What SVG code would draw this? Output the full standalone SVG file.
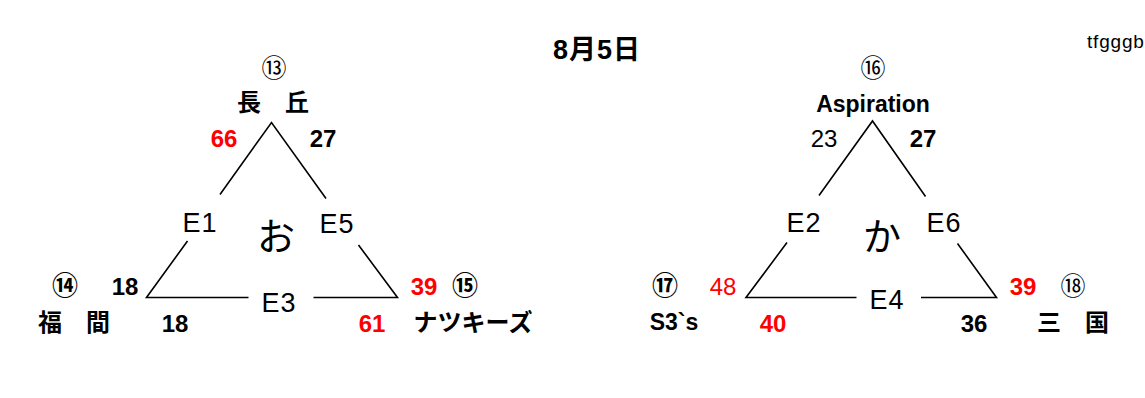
<svg xmlns="http://www.w3.org/2000/svg" width="1145" height="398" viewBox="0 0 1145 398">
<style>
.bg{fill:#ffffff}
.ln{stroke:#000;stroke-width:1.6;fill:none}
text{text-anchor:middle}
.num{font-family:"Liberation Sans","Noto Sans CJK JP",sans-serif;font-size:24px;font-weight:bold;fill:#000}
.numr{font-family:"Liberation Sans","Noto Sans CJK JP",sans-serif;font-size:24px;font-weight:normal;fill:#000}
.red{fill:#ff0000}
.cir{font-family:"Noto Sans CJK JP",sans-serif;font-size:25px;fill:#000}
.cirb{font-family:"Noto Sans CJK JP",sans-serif;font-size:26px;font-weight:bold;fill:#000}
.jp{font-family:"Noto Sans CJK JP",sans-serif;font-size:24px;font-weight:bold;fill:#000}
.en{font-family:"Liberation Sans","Noto Sans CJK JP",sans-serif;font-size:23px;font-weight:bold;fill:#000}
.e{font-family:"Liberation Sans",sans-serif;font-size:27px;fill:#000;letter-spacing:1px}
.big{font-family:"Noto Sans CJK JP",sans-serif;font-size:38px;fill:#000}
.title{font-family:"Liberation Sans","Noto Sans CJK JP",sans-serif;font-size:27px;font-weight:bold;fill:#000;letter-spacing:1px}
.tag{font-family:"Liberation Sans",sans-serif;font-size:19px;fill:#000;text-anchor:start;letter-spacing:0.8px}
</style>
<rect class="bg" x="0" y="0" width="1145" height="398"/>
<text class="title" x="597" y="59">8月5日</text>
<text class="tag" x="1087" y="48">tfgggb</text>

<g id="connectors">
  <path class="ln" d="M220,194.5 L271.5,122.5 L326,198.5"/>
  <path class="ln" d="M187.5,241 L146.5,297.5 L248.5,297.5"/>
  <path class="ln" d="M313.5,297.5 L397.5,297.5 L358.5,245"/>
  <path class="ln" d="M819,195.5 L872.5,121 L925.5,196.5"/>
  <path class="ln" d="M787,242.5 L746,297.5 L856.5,297.5"/>
  <path class="ln" d="M921,297.5 L996.5,297.5 L957.5,243.5"/>
</g>

<g id="node-nagaoka">
  <text class="cir" x="274" y="77">⑬</text>
  <text class="jp" x="273" y="111">長　丘</text>
  <text class="num red" x="224" y="147">66</text>
  <text class="num" x="323" y="147">27</text>
</g>
<g id="node-fukuma">
  <text class="cirb" x="65" y="295">⑭</text>
  <text class="num" x="125" y="295">18</text>
  <text class="jp" x="74" y="331">福　間</text>
  <text class="num" x="175" y="332">18</text>
</g>
<g id="node-natsukiz">
  <text class="num red" x="424" y="295">39</text>
  <text class="cirb" x="465" y="295">⑮</text>
  <text class="jp" x="473" y="331">ナツキーズ</text>
  <text class="num red" x="372" y="332">61</text>
</g>
<g id="group-o">
  <text class="e" x="200" y="232">E1</text>
  <text class="e" x="337" y="233">E5</text>
  <text class="e" x="279" y="312">E3</text>
  <text class="big" x="276" y="250">お</text>
</g>

<g id="node-aspiration">
  <text class="cir" x="873" y="77">⑯</text>
  <text class="en" x="873" y="112">Aspiration</text>
  <text class="numr" x="824" y="147">23</text>
  <text class="num" x="923" y="147">27</text>
</g>
<g id="node-s3s">
  <text class="cirb" x="665" y="295">⑰</text>
  <text class="numr red" x="723" y="295">48</text>
  <text class="en" x="674" y="330">S3`s</text>
  <text class="num red" x="773" y="332">40</text>
</g>
<g id="node-mikuni">
  <text class="num red" x="1023" y="295">39</text>
  <text class="cir" x="1073" y="295">⑱</text>
  <text class="jp" x="1073" y="331">三　国</text>
  <text class="num" x="974" y="332">36</text>
</g>
<g id="group-ka">
  <text class="e" x="804" y="232">E2</text>
  <text class="e" x="944" y="232">E6</text>
  <text class="e" x="887" y="309">E4</text>
  <text class="big" x="882" y="250">か</text>
</g>
</svg>
